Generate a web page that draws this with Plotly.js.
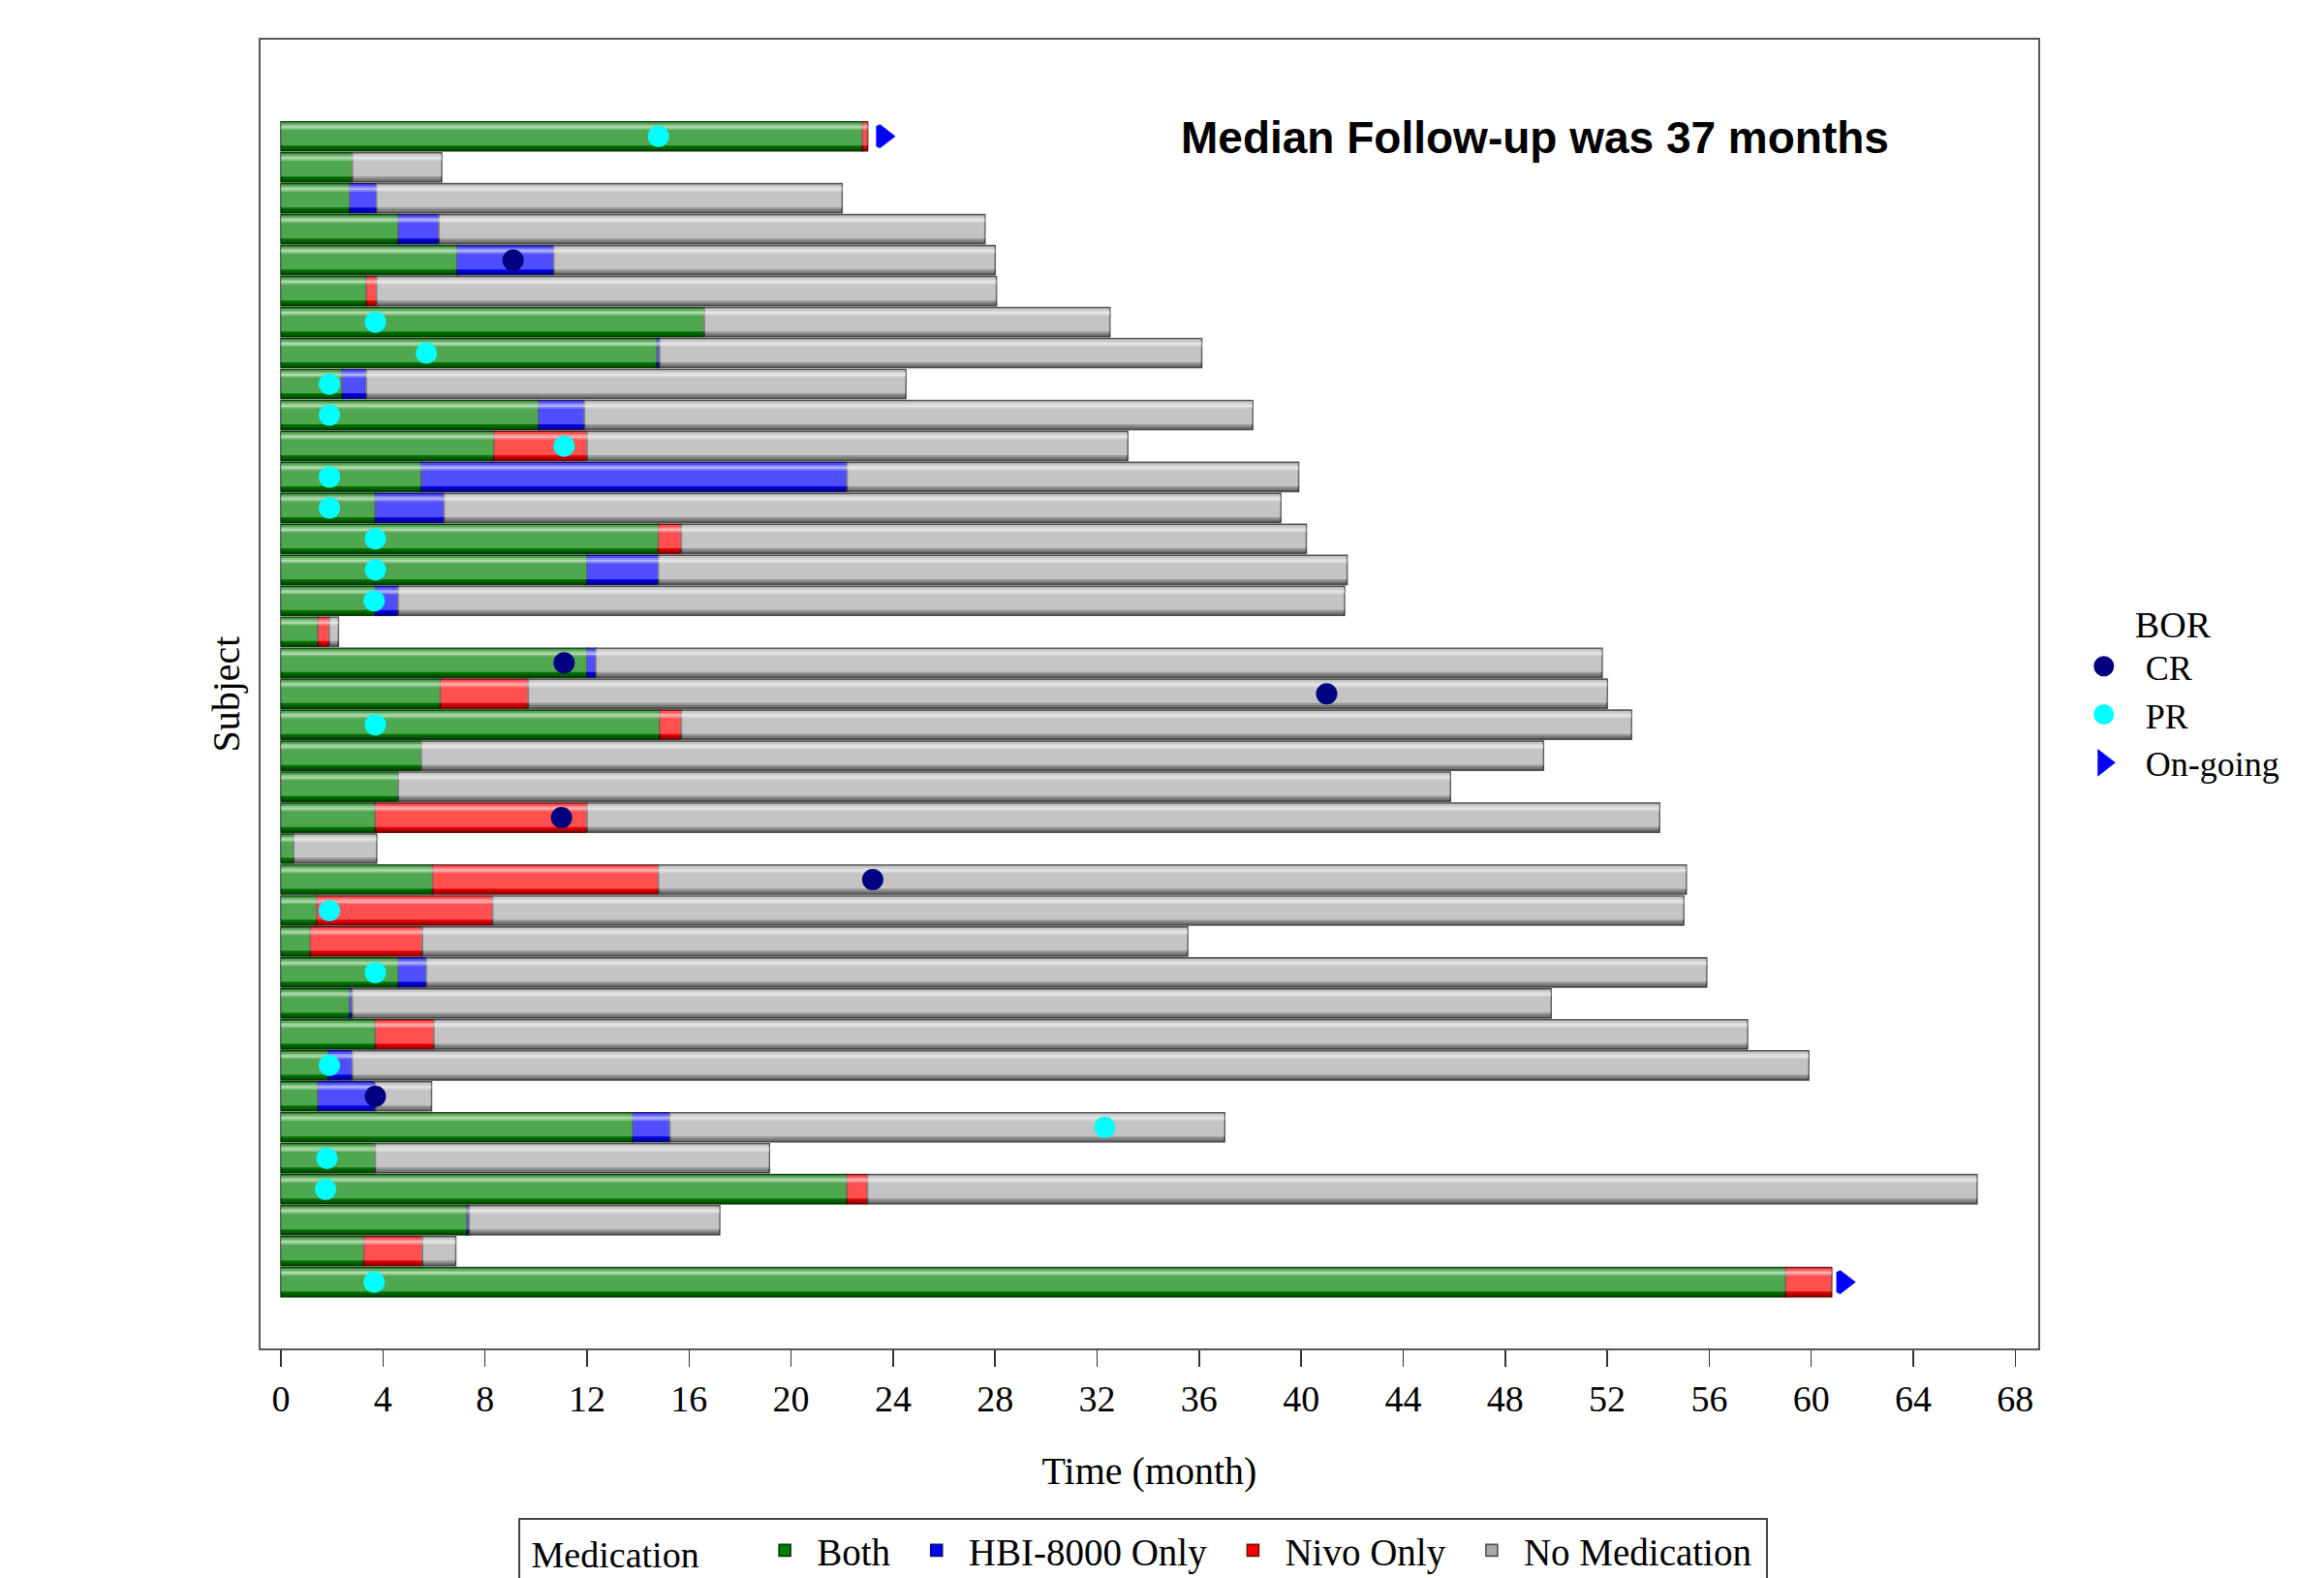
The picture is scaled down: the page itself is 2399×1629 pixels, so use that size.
<!DOCTYPE html>
<html>
<head>
<meta charset="utf-8">
<script src="https://cdn.plot.ly/plotly-3.0.1.min.js"></script>
<style>
  html, body { margin: 0; padding: 0; background: #ffffff; }
  #chart { width: 2399px; height: 1629px; }
</style>
</head>
<body>
<div id="chart"></div>
<script>
// Swimmer plot: time on treatment per subject, by medication state (months)
const subjects = [1, 2, 3, 4, 5, 6, 7, 8, 9, 10, 11, 12, 13, 14, 15, 16, 17, 18, 19,
                  20, 21, 22, 23, 24, 25, 26, 27, 28, 29, 30, 31, 32, 33, 34, 35, 36, 37, 38];

// Duration of each medication state, per subject (months)
const bothMonths = [22.8, 2.8, 2.7, 4.6, 6.9, 3.35, 16.6, 14.75, 2.4, 10.1, 8.35, 5.5, 3.7, 14.8, 12.0, 3.7, 1.45, 12.0, 6.25,
                    14.85, 5.5, 4.6, 3.7, 0.5, 5.95, 1.4, 1.15, 4.6, 2.7, 3.7, 1.85, 1.45, 13.8, 3.7, 22.2, 7.3, 3.25, 59.0];
const hbiMonths  = [0, 0, 1.05, 1.6, 3.8, 0, 0, 0.1, 0.95, 1.8, 0, 16.7, 2.7, 0, 2.8, 0.9, 0, 0.35, 0,
                    0, 0, 0, 0, 0, 0, 0, 0, 1.1, 0.1, 0, 0.95, 2.25, 1.45, 0, 0, 0.08, 0, 0];
const nivoMonths = [0.2, 0, 0, 0, 0, 0.4, 0, 0, 0, 0, 3.65, 0, 0, 0.9, 0, 0, 0.45, 0, 3.45,
                    0.85, 0, 0, 8.3, 0, 8.85, 6.9, 4.4, 0, 0, 2.3, 0, 0, 0, 0, 0.8, 0, 2.3, 1.8];
const offMonths  = [0, 3.5, 18.25, 21.4, 17.3, 24.3, 15.9, 21.25, 21.15, 26.2, 21.2, 17.7, 32.8, 24.5, 27.0, 37.1, 0.35, 39.45, 42.3,
                    37.25, 44.0, 41.25, 42.05, 3.25, 40.3, 46.7, 30.0, 50.2, 47.0, 51.5, 57.1, 2.2, 21.75, 15.45, 43.5, 9.82, 1.3, 0];

// Best overall response and on-going status
const crSubjects = [5, 18, 19, 23, 25, 32];
const crMonths   = [9.1, 11.1, 41.0, 11.0, 23.2, 3.7];
const prSubjects = [1, 7, 8, 9, 10, 11, 12, 13, 14, 15, 16, 20, 26, 28, 31, 33, 34, 35, 38];
const prMonths   = [14.8, 3.7, 5.7, 1.9, 1.9, 11.1, 1.9, 1.9, 3.7, 3.7, 3.65, 3.7, 1.9, 3.7, 1.9, 32.3, 1.8, 1.75, 3.65];
const ongoingSubjects = [1, 38];
const ongoingMonths   = [23.6, 61.25];

const monthTicks = [0, 4, 8, 12, 16, 20, 24, 28, 32, 36, 40, 44, 48, 52, 56, 60, 64, 68];

// ---- build stacked segments from the durations ----
const nz = arr => arr.map(v => (v > 0 ? v : null));
const baseHbi  = bothMonths.map(b => b);
const baseNivo = bothMonths.map((b, i) => b + hbiMonths[i]);
const baseOff  = bothMonths.map((b, i) => b + hbiMonths[i] + nivoMonths[i]);
const totalMonths = baseOff.map((b, i) => b + offMonths[i]);

const serif = 'Liberation Serif, Times New Roman, serif';
const BAR_W = 0.94;
const NB = '\u00a0';

function segment(name, x, base, color, lineColor) {
  return {
    type: 'bar', orientation: 'h', name: name, legend: 'legend2',
    y: subjects, x: nz(x), base: base,
    width: BAR_W,
    marker: { color: color, line: { color: lineColor, width: 1.6 } },
    hoverinfo: 'skip'
  };
}

// shading bands drawn over each whole bar to give the cylinder look
function band(offset, width, color) {
  return {
    type: 'bar', orientation: 'h', showlegend: false,
    y: subjects, x: totalMonths, base: 0,
    offset: offset, width: width,
    marker: { color: color, line: { width: 0 } },
    hoverinfo: 'skip'
  };
}

// response markers: a same-colour outline keeps the legend symbols full size
function responseMarkers(name, x, y, symbol, color, size) {
  return {
    type: 'scatter', mode: 'markers', name: name, legend: 'legend',
    x: x, y: y,
    marker: { symbol: symbol, color: color, size: size, line: { color: color, width: 5 } },
    hoverinfo: 'skip'
  };
}

const traces = [
  segment('Both' + NB, bothMonths, 0, '#008000', '#0b3d0b'),
  segment('HBI-8000 Only' + NB, hbiMonths, baseHbi, '#0000ff', '#101070'),
  segment('Nivo Only' + NB, nivoMonths, baseNivo, '#ff0000', '#701010'),
  segment('No Medication' + NB, offMonths, baseOff, '#aaaaaa', '#505050'),
  band(-0.45, 0.75, 'rgba(255,255,255,0.31)'),
  band(-0.38, 0.05, 'rgba(255,255,255,0.35)'),
  band(-0.33, 0.07, 'rgba(255,255,255,0.55)'),
  band(-0.26, 0.05, 'rgba(255,255,255,0.25)'),
  band(0.30, 0.07, 'rgba(0,0,0,0.12)'),
  band(0.37, 0.09, 'rgba(0,0,0,0.32)'),
  responseMarkers('CR', crMonths, crSubjects, 'circle', '#000080', 17),
  responseMarkers('PR', prMonths, prSubjects, 'circle', '#00ffff', 17),
  responseMarkers('On-going', ongoingMonths, ongoingSubjects, 'triangle-right', '#0000ff', 18)
];

const layout = {
  width: 2399, height: 1629,
  paper_bgcolor: '#ffffff', plot_bgcolor: '#ffffff',
  margin: { l: 269, r: 295, t: 41, b: 237, pad: 0, autoexpand: false },
  barmode: 'overlay',
  font: { family: serif, size: 38, color: '#000000' },
  xaxis: {
    range: [-0.8, 68.9],
    tickmode: 'array', tickvals: monthTicks, ticktext: monthTicks.map(String),
    ticks: 'outside', ticklen: 17, tickwidth: 1.5, tickcolor: '#333333',
    ticklabelstandoff: 0,
    tickfont: { family: serif, size: 38, color: '#000000' },
    showgrid: false, zeroline: false,
    showline: true, linecolor: '#555555', linewidth: 2, mirror: true,
    title: { text: 'Time (month)', font: { family: serif, size: 40, color: '#000000' }, standoff: 40 },
    automargin: false
  },
  yaxis: {
    range: [40.14, -2.12],
    showticklabels: false, ticks: '',
    showgrid: false, zeroline: false,
    showline: true, linecolor: '#555555', linewidth: 2, mirror: true,
    title: { text: 'Subject', font: { family: serif, size: 40, color: '#000000' }, standoff: 7 },
    automargin: false
  },
  legend: {
    x: 1.0135, xanchor: 'left', y: 0.580, yanchor: 'top',
    bgcolor: 'rgba(0,0,0,0)', borderwidth: 0,
    font: { family: serif, size: 36, color: '#000000' },
    title: { text: 'BOR', side: 'top center', font: { family: serif, size: 38, color: '#000000' } },
    itemsizing: 'trace', itemwidth: 76,
    traceorder: 'normal'
  },
  legend2: {
    orientation: 'h',
    xref: 'paper', x: 0.145, xanchor: 'left',
    yref: 'paper', y: -0.1292, yanchor: 'top',
    bgcolor: '#ffffff', bordercolor: '#444444', borderwidth: 2,
    font: { family: serif, size: 39, color: '#000000' },
    title: { text: NB + 'Medication' + NB + NB + NB + NB + NB, side: 'left', font: { family: serif, size: 38, color: '#000000' } },
    itemwidth: 56,
    traceorder: 'normal'
  },
  annotations: [{
    xref: 'paper', yref: 'paper', x: 0.717, y: 0.925,
    xanchor: 'center', yanchor: 'middle', showarrow: false,
    text: '<b>Median Follow-up was 37 months</b>',
    font: { family: 'Liberation Sans, Arial, sans-serif', size: 46, color: '#000000' }
  }],
  hovermode: false,
  showlegend: true
};

Plotly.newPlot('chart', traces, layout, { staticPlot: true, displayModeBar: false });
</script>
</body>
</html>
